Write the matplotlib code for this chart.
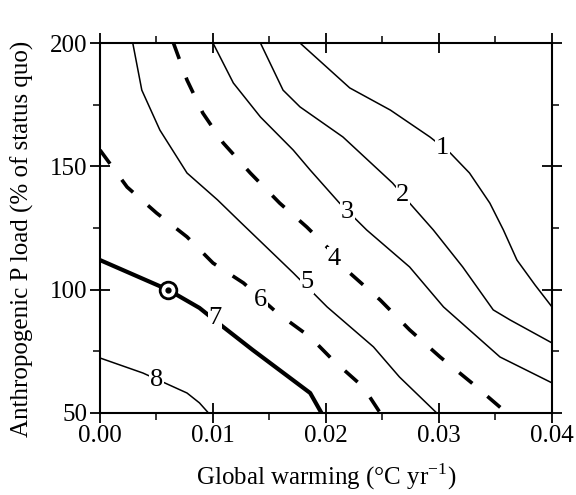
import matplotlib.pyplot as plt
import matplotlib.ticker as mticker

plt.rcParams['font.family'] = ['Liberation Serif', 'DejaVu Serif']

# Isolines of the response, traced as (warming rate, P load) pairs
line1_x = [0.0177, 0.0221, 0.0257, 0.0292, 0.0310, 0.0327, 0.0345, 0.0357, 0.0369, 0.0385, 0.0400]
line1_y = [200, 181.8, 172.8, 161.9, 155.4, 147.3, 135.1, 124.2, 112.0, 101.9, 93.0]

line2_x = [0.0142, 0.0162, 0.0177, 0.0215, 0.0259, 0.0274, 0.0295, 0.0321, 0.0348, 0.0363, 0.0400]
line2_y = [200, 180.9, 174.1, 161.9, 143.2, 135.1, 124.2, 109.2, 91.8, 87.7, 78.4]

line3_x = [0.0100, 0.0118, 0.0142, 0.0171, 0.0186, 0.0212, 0.0236, 0.0274, 0.0304, 0.0354, 0.0400]
line3_y = [200, 183.8, 170.0, 156.6, 148.5, 135.1, 124.2, 109.2, 93.0, 72.7, 62.2]

line4_x = [0.0065, 0.0077, 0.0091, 0.0109, 0.0133, 0.0159, 0.0183, 0.0208, 0.0221, 0.0248, 0.0274, 0.0301, 0.0329, 0.0360]
line4_y = [200, 185.0, 171.6, 159.5, 147.3, 135.1, 125.4, 114.1, 106.8, 95.8, 83.7, 72.7, 62.2, 50]

line5_x = [0.0029, 0.0037, 0.0053, 0.0077, 0.0104, 0.0124, 0.0171, 0.0201, 0.0242, 0.0265, 0.0298]
line5_y = [200, 180.9, 164.7, 147.3, 136.4, 127.5, 106.8, 93.0, 76.8, 64.6, 50]

line6_x = [0.0, 0.0024, 0.0050, 0.0077, 0.0100, 0.0127, 0.0157, 0.0186, 0.0206, 0.0233, 0.0248]
line6_y = [156.6, 141.6, 131.1, 121.4, 110.8, 102.7, 90.5, 80.8, 71.5, 60.5, 50]

line7_x = [0.0, 0.0060, 0.0088, 0.0109, 0.0135, 0.0186, 0.0196]
line7_y = [112.0, 100.0, 92.6, 84.9, 75.6, 58.1, 50]

line8_x = [0.0, 0.0038, 0.0077, 0.0088, 0.0096]
line8_y = [72.3, 66.2, 58.1, 54.1, 50]

# label text and where it sits on each line
labels = ['1', '2', '3', '4', '5', '6', '7', '8']
label_x = [0.0303, 0.0268, 0.0219, 0.0207, 0.0183, 0.0142, 0.0102, 0.0050]
label_y = [157.4, 138.4, 131.5, 112.5, 103.1, 95.8, 88.5, 63.4]

# status quo point
now_x = 0.006
now_y = 100

fig = plt.figure(figsize=(5.76, 4.95), dpi=100)
ax = fig.add_axes([0.1736, 0.1657, 0.7847, 0.7474])

thin = dict(color='black', lw=1.1)
dashed = dict(color='black', lw=2.6, dashes=(4.7, 5.5))

ax.plot(line1_x, line1_y, **thin)
ax.plot(line2_x, line2_y, **thin)
ax.plot(line3_x, line3_y, **thin)
ax.plot(line4_x, line4_y, **dashed)
ax.plot(line5_x, line5_y, **thin)
ax.plot(line6_x, line6_y, **dashed)
ax.plot(line7_x, line7_y, color='black', lw=3.0, solid_capstyle='butt')
ax.plot(line8_x, line8_y, **thin)

for t, x, y in zip(labels, label_x, label_y):
    ax.text(x, y, t, fontsize=19, ha='center', va='center', zorder=5,
            bbox=dict(facecolor='white', edgecolor='none', pad=0.3))

ax.plot(now_x, now_y, 'o', ms=12, mfc='white', mec='black', mew=2, zorder=6)
ax.plot(now_x, now_y, 'o', ms=3.5, color='black', zorder=7)

ax.set_xlim(0, 0.04)
ax.set_ylim(50, 200)
ax.xaxis.set_major_locator(mticker.MultipleLocator(0.01))
ax.xaxis.set_minor_locator(mticker.MultipleLocator(0.005))
ax.xaxis.set_major_formatter(mticker.FormatStrFormatter('%.2f'))
ax.yaxis.set_major_locator(mticker.MultipleLocator(50))
ax.yaxis.set_minor_locator(mticker.MultipleLocator(25))

ax.tick_params(which='major', direction='inout', length=14, width=1.3,
               top=True, right=True, labelsize=18, pad=2)
ax.tick_params(which='minor', direction='out', length=5, width=1.1,
               top=True, right=True)
for s in ax.spines.values():
    s.set_linewidth(1.5)

ax.set_xlabel('Global warming (°C yr$^{\\mathregular{-1}}$)', fontsize=18)
ax.set_ylabel('Anthropogenic P load (% of status quo)', fontsize=18)
ax.xaxis.set_label_coords(0.5, -0.13)
ax.yaxis.set_label_coords(-0.146, 0.47)

fig.savefig('out.png', dpi=100)
